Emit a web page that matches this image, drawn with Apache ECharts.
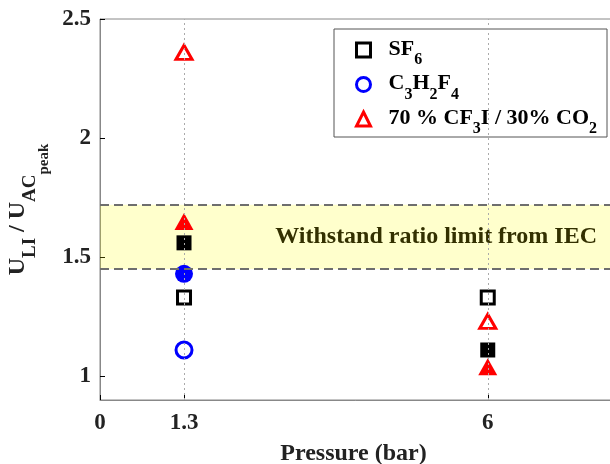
<!DOCTYPE html>
<html><head><meta charset="utf-8">
<script src="https://cdn.jsdelivr.net/npm/echarts@6/dist/echarts.min.js"></script>
<style>html,body{margin:0;padding:0;background:#fff}#c{width:610px;height:464px}</style>
</head><body><div id="c"></div>
<script>
const pressures = [1.3, 6];
const sf6Open = [1.33, 1.33];
const sf6Filled = [1.56, 1.11];
const c3h2f4Open = [1.11, null];
const c3h2f4Filled = [1.43, null];
const cf3iOpen = [2.36, 1.23];
const cf3iFilled = [1.65, 1.04];
const iecBand = [1.45, 1.72];
const bandText = 'Withstand ratio limit from IEC';
const xTicks = [0, 1.3, 6];
const yTicks = [1, 1.5, 2, 2.5];
const seriesNames = ['SF6', 'C3H2F4', '70 % CF3I / 30% CO2'];
const legendLabels = {
  'SF6': '{f|SF}{s|6}',
  'C3H2F4': '{f|C}{s|3}{m|H}{s|2}{m|F}{s|4}',
  '70 % CF3I / 30% CO2': '{f|70 % CF}{s|3}{m|I / 30% CO}{s|2}'
};

const SERIF = "'Liberation Serif','Times New Roman',serif";
function pts(ys) {
  return pressures.map((x, i) => ys[i] == null ? null : [x, ys[i]]).filter(Boolean);
}
const chart = echarts.init(document.getElementById('c'), null, {renderer: 'canvas'});
const openStyle = c => ({color: 'transparent', borderColor: c, borderWidth: 3, opacity: 1});
const option = {
  animation: false,
  backgroundColor: '#fff',
  grid: {left: 100, top: 19, right: -7, bottom: 64, outerBoundsMode: 'none', containLabel: false,
    show: true, borderColor: '#888', borderWidth: 1, backgroundColor: 'transparent'},
  legend: {
    orient: 'vertical', left: 334, top: 29, itemWidth: 14, itemHeight: 14, itemGap: 4.5,
    padding: [9, 10, 0, 21], backgroundColor: '#fff', borderColor: '#555', borderWidth: 1,
    selectedMode: false,
    data: [
      {name: seriesNames[0], icon: 'rect', itemStyle: openStyle('#000')},
      {name: seriesNames[1], icon: 'circle', itemStyle: openStyle('#0000ff')},
      {name: seriesNames[2], icon: 'triangle', itemStyle: openStyle('#ff0000')}
    ],
    formatter: n => legendLabels[n],
    textStyle: {
      rich: {
        f: {fontFamily: SERIF, fontWeight: 'bold', fontSize: 22, color: '#000', lineHeight: 24, verticalAlign: 'top', padding: [0, 0, 0, 13]},
        m: {fontFamily: SERIF, fontWeight: 'bold', fontSize: 22, color: '#000', lineHeight: 24, verticalAlign: 'top'},
        s: {fontFamily: SERIF, fontWeight: 'bold', fontSize: 16, color: '#000', lineHeight: 16, verticalAlign: 'top', padding: [14, 0, 0, 0]}
      }
    }
  },
  xAxis: {
    type: 'value', min: 0, max: 8,
    name: 'Pressure (bar)', nameLocation: 'middle', nameGap: 42,
    nameTextStyle: {fontFamily: SERIF, fontWeight: 'bold', fontSize: 24, color: '#222', padding: [0, 10, 0, 0]},
    axisLine: {show: true, lineStyle: {color: '#888', width: 1}},
    axisTick: {show: true, inside: true, length: 5, customValues: xTicks, lineStyle: {color: '#000'}},
    axisLabel: {customValues: xTicks, fontFamily: SERIF, fontWeight: 'bold', fontSize: 23, color: '#222', margin: 12},
    splitLine: {show: false}
  },
  yAxis: {
    type: 'value', min: 0.9, max: 2.5,
    name: '{m|U}{s|LI}{m| / U}{s|AC}{ss|peak}', nameLocation: 'middle', nameGap: 52, nameRotate: 90,
    nameTextStyle: {
      rich: {
        m: {fontFamily: SERIF, fontWeight: 'bold', fontSize: 24, color: '#222', lineHeight: 26, verticalAlign: 'top'},
        s: {fontFamily: SERIF, fontWeight: 'bold', fontSize: 19, color: '#222', lineHeight: 19, verticalAlign: 'top', padding: [15, 0, 0, 0]},
        ss: {fontFamily: SERIF, fontWeight: 'bold', fontSize: 15, color: '#222', lineHeight: 15, verticalAlign: 'top', padding: [31, 0, 0, 0]}
      }
    },
    axisLine: {show: true, lineStyle: {color: '#888', width: 1}},
    axisTick: {show: true, inside: true, length: 5, customValues: yTicks, lineStyle: {color: '#000'}},
    axisLabel: {customValues: yTicks, fontFamily: SERIF, fontWeight: 'bold', fontSize: 23, color: '#222', margin: 9},
    splitLine: {show: false}
  },
  series: [
    {
      type: 'line', data: [], z: 1, silent: true,
      markLine: {
        silent: true, symbol: 'none', label: {show: false},
        lineStyle: {type: [2, 3], color: '#aaa', width: 1},
        data: pressures.map(p => ({xAxis: p}))
      }
    },
    {
      type: 'line', data: [], z: 2, silent: true,
      markLine: {
        silent: true, symbol: 'none', label: {show: false},
        lineStyle: {type: [9, 5], color: '#6e6e6e', width: 2},
        data: iecBand.map(v => ({yAxis: v}))
      }
    },
    {name: seriesNames[0], type: 'scatter', z: 3, symbol: 'rect', symbolSize: 13, itemStyle: openStyle('#000'), data: pts(sf6Open)},
    {name: seriesNames[0] + ' filled', type: 'scatter', z: 3, symbol: 'rect', symbolSize: 15, itemStyle: {color: '#000', opacity: 1}, data: pts(sf6Filled)},
    {name: seriesNames[1], type: 'scatter', z: 3, symbol: 'circle', symbolSize: 16, itemStyle: openStyle('#0000ff'), data: pts(c3h2f4Open)},
    {name: seriesNames[1] + ' filled', type: 'scatter', z: 3, symbol: 'circle', symbolSize: 18, itemStyle: {color: '#0000ff', opacity: 1}, data: pts(c3h2f4Filled)},
    {name: seriesNames[2], type: 'scatter', z: 3, symbol: 'triangle', symbolSize: [16, 14], itemStyle: openStyle('#ff0000'), data: pts(cf3iOpen)},
    {name: seriesNames[2] + ' filled', type: 'scatter', z: 3, symbol: 'triangle', symbolSize: [19, 17], itemStyle: {color: '#ff0000', opacity: 1}, data: pts(cf3iFilled)},
    {
      type: 'line', data: [], z: 4, silent: true,
      markArea: {
        silent: true,
        itemStyle: {color: 'rgba(255,255,0,0.2)'},
        label: {show: true, position: 'insideRight', distance: 20, formatter: bandText,
          fontFamily: SERIF, fontWeight: 'bold', fontSize: 24, color: '#333000'},
        data: [[{xAxis: 0, yAxis: iecBand[0]}, {xAxis: 8, yAxis: iecBand[1]}]]
      }
    }
  ]
};
chart.setOption(option);
</script>
</body></html>
